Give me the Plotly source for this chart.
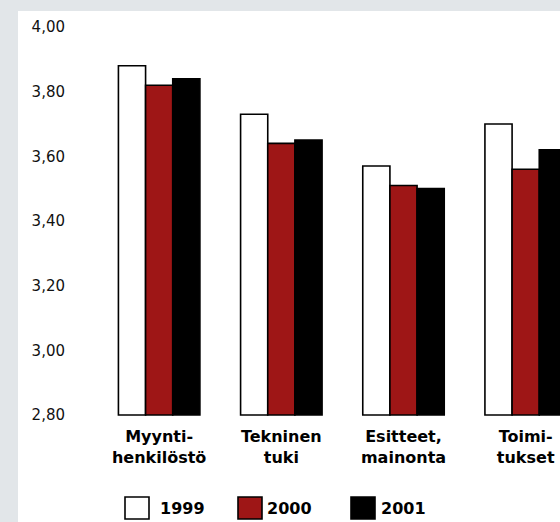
import plotly.graph_objects as go

# Survey averages per area, three survey years
categories = ["Myynti-<br>henkilöstö", "Tekninen<br>tuki", "Esitteet,<br>mainonta", "Toimi-<br>tukset"]
years = ["1999", "2000", "2001"]
values_1999 = [3.88, 3.73, 3.57, 3.70]
values_2000 = [3.82, 3.64, 3.51, 3.56]
values_2001 = [3.84, 3.65, 3.50, 3.62]
y_ticks = [2.8, 3.0, 3.2, 3.4, 3.6, 3.8, 4.0]
baseline = 2.8

W, H = 560, 522
L, R, T, B = 69, 0, 27, 104
plot_w = W - L - R
plot_h = H - T - B


def px_x(px):
    return (px - L) / plot_w


def px_y(py):
    return (H - B - py) / plot_h


fills = ["#ffffff", "#9e1616", "#000000"]
series = [values_1999, values_2000, values_2001]

fig = go.Figure()
for name, vals, col in zip(years, series, fills):
    fig.add_trace(go.Bar(
        x=categories,
        y=[v - baseline for v in vals],
        base=baseline,
        name=name,
        marker=dict(color=col, line=dict(color="#000000", width=1.6)),
        customdata=vals,
        hovertemplate="%{x}: %{customdata:.2f}<extra>" + name + "</extra>",
        showlegend=False,
    ))

shapes = [
    # white panel over the grey page border
    dict(type="rect", xref="paper", yref="paper",
         x0=px_x(18), x1=px_x(W + 5), y0=px_y(H + 5), y1=px_y(11),
         fillcolor="#ffffff", line=dict(width=0), layer="below"),
]
annotations = []

# legend row: boxes and year labels
legend_box_x = [125, 238, 351]
legend_text_x = [158, 265, 379]
for name, col, bx, tx in zip(years, fills, legend_box_x, legend_text_x):
    shapes.append(dict(type="rect", xref="paper", yref="paper",
                       x0=px_x(bx), x1=px_x(bx + 24), y0=px_y(519), y1=px_y(497),
                       fillcolor=col, line=dict(color="#000000", width=1.6)))
    annotations.append(dict(text=name, xref="paper", yref="paper",
                            x=px_x(tx), y=px_y(508), xanchor="left", yanchor="middle",
                            showarrow=False,
                            font=dict(family="DejaVu Sans", size=16, color="#000000", weight="bold")))

fig.update_layout(
    width=W, height=H,
    margin=dict(l=L, r=R, t=T, b=B, pad=0),
    paper_bgcolor="#e2e6e9",
    plot_bgcolor="#ffffff",
    barmode="group",
    bargap=0.333,
    bargroupgap=0,
    separators=",.",
    shapes=shapes,
    annotations=annotations,
    xaxis=dict(
        range=[-0.738, 3.281],
        showgrid=False, zeroline=False, showline=False, ticks="",
        ticklabelstandoff=7,
        tickfont=dict(family="DejaVu Sans", size=16, color="#000000", weight="bold"),
    ),
    yaxis=dict(
        range=[2.7907, 4.0],
        tickvals=y_ticks,
        tickformat=".2f",
        showgrid=False, zeroline=False, showline=False, ticks="",
        ticklabelstandoff=3,
        tickfont=dict(family="DejaVu Sans", size=15, color="#111111"),
    ),
)

fig.write_html("out.html")
